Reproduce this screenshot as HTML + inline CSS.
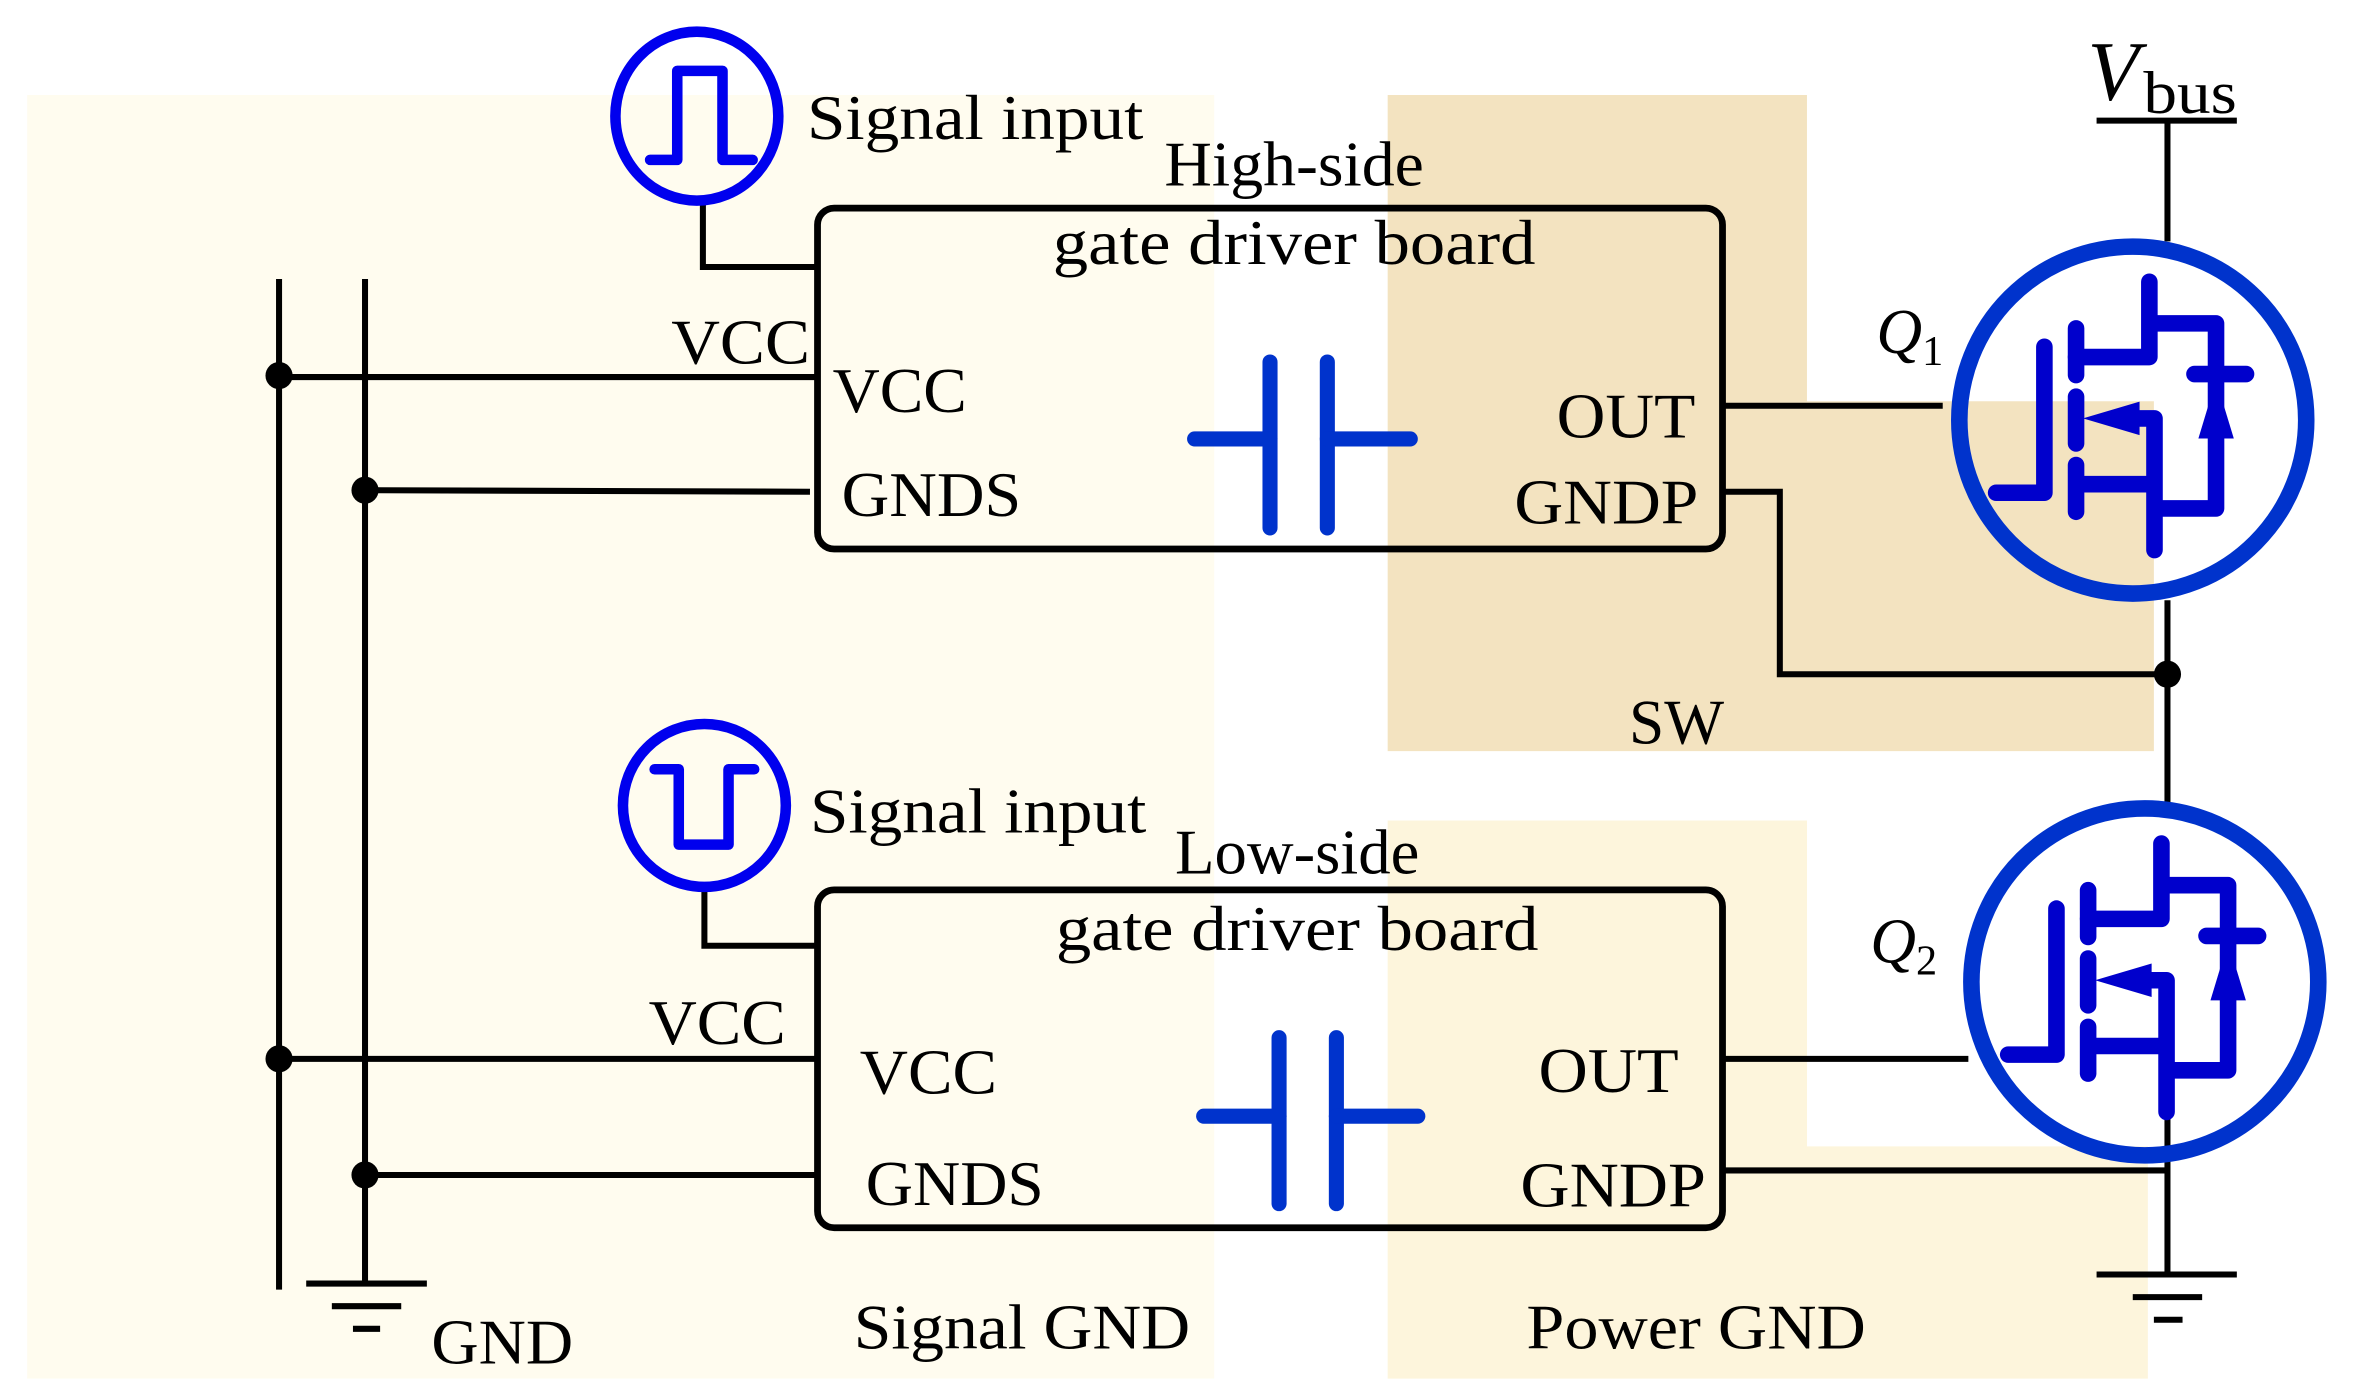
<!DOCTYPE html>
<html><head><meta charset="utf-8"><style>
html,body{margin:0;padding:0;background:#fff;}
svg{display:block;}
text{font-family:"Liberation Serif",serif;fill:#000;}
</style></head><body>
<svg width="2353" height="1397" viewBox="0 0 1560 926.2" xmlns="http://www.w3.org/2000/svg">
<defs>
<g id="fet">
  <path d="M-90.6,48.2 L-58.6,48.2 L-58.6,-48.6" fill="none" stroke="#0000cc" stroke-width="11" stroke-linecap="round" stroke-linejoin="round"/>
  <g stroke="#0000cc" stroke-width="11" stroke-linecap="round" fill="none">
    <line x1="-37.6" y1="-60.8" x2="-37.6" y2="-29.8"/>
    <line x1="-37.6" y1="-15.5" x2="-37.6" y2="15.5"/>
    <line x1="-37.6" y1="29.8" x2="-37.6" y2="60.8"/>
  </g>
  <g stroke="#0000cc" stroke-width="11" fill="none" stroke-linejoin="round">
    <path d="M-37.6,-41.8 L11,-41.8 L11,-91.7" stroke-linecap="round"/>
    <path d="M11,-64.1 L55.2,-64.1 L55.2,58.6 L14.4,58.6"/>
    <path d="M-37.6,42.5 L14.4,42.5"/>
    <path d="M14.4,86.2 L14.4,-1.1 L2,-1.1" stroke-linecap="round"/>
    <line x1="40.9" y1="-30.5" x2="75.1" y2="-30.5" stroke-linecap="round"/>
  </g>
  <polygon points="-33,-1.1 4.5,-12.2 4.5,10" fill="#0000cc"/>
  <polygon points="55.2,-26.5 43.5,12.2 67,12.2" fill="#0000cc"/>
</g>
</defs>
<rect x="18" y="63" width="787" height="851" fill="#fffcef"/>
<path d="M920,63 H1198 V266 H1428 V498 H920 Z" fill="#f3e3c0"/>
<path d="M920,544 H1198 V760 H1424 V914 H920 Z" fill="#fdf5dc"/>

<rect x="542" y="138" width="600" height="226" rx="11" fill="none" stroke="#000" stroke-width="4.5"/>
<rect x="542" y="590" width="600" height="224" rx="11" fill="none" stroke="#000" stroke-width="4.5"/>

<g stroke="#000" stroke-width="4" fill="none">
  <line x1="185" y1="185" x2="185" y2="855"/>
  <line x1="242" y1="185" x2="242" y2="851"/>
  <line x1="203" y1="851" x2="283" y2="851"/>
  <line x1="220" y1="866" x2="266" y2="866"/>
  <line x1="234" y1="881" x2="252" y2="881"/>
  <line x1="185" y1="250" x2="542" y2="250"/>
  <line x1="242" y1="325" x2="537" y2="326"/>
  <line x1="185" y1="702" x2="542" y2="702"/>
  <line x1="242" y1="779" x2="542" y2="779"/>
  <path d="M466,130 V177 H542"/>
  <path d="M467,588 V627 H542"/>
  <line x1="1142" y1="269" x2="1288" y2="269"/>
  <path d="M1142,326 H1180 V447 H1437"/>
  <line x1="1437" y1="80" x2="1437" y2="160"/>
  <line x1="1437" y1="398" x2="1437" y2="533"/>
  <line x1="1390" y1="80" x2="1483" y2="80"/>
  <line x1="1142" y1="702" x2="1305" y2="702"/>
  <line x1="1142" y1="776" x2="1437" y2="776"/>
  <line x1="1437" y1="740" x2="1437" y2="845"/>
  <line x1="1390" y1="845" x2="1483" y2="845"/>
  <line x1="1414" y1="860" x2="1460" y2="860"/>
  <line x1="1428" y1="875" x2="1447" y2="875"/>
</g>
<g fill="#000">
  <circle cx="185" cy="249" r="9"/><circle cx="242" cy="325" r="9"/>
  <circle cx="185" cy="702" r="9"/><circle cx="242" cy="779" r="9"/>
  <circle cx="1437" cy="447" r="9"/>
</g>

<ellipse cx="462" cy="77" rx="54" ry="56" fill="none" stroke="#0000ee" stroke-width="7"/>
<path d="M431,106 H449 V47 H479 V106 H499" fill="none" stroke="#0000ee" stroke-width="7" stroke-linecap="round" stroke-linejoin="round"/>
<ellipse cx="467" cy="534" rx="54" ry="54" fill="none" stroke="#0000ee" stroke-width="7"/>
<path d="M434,510 H450 V560 H483 V510 H500" fill="none" stroke="#0000ee" stroke-width="7" stroke-linecap="round" stroke-linejoin="round"/>

<g stroke="#0033cc" stroke-width="10" stroke-linecap="round">
  <line x1="842" y1="240" x2="842" y2="350"/><line x1="880" y1="240" x2="880" y2="350"/>
  <line x1="792" y1="291" x2="842" y2="291"/><line x1="880" y1="291" x2="935" y2="291"/>
  <line x1="848" y1="688" x2="848" y2="798"/><line x1="886" y1="688" x2="886" y2="798"/>
  <line x1="798" y1="740" x2="848" y2="740"/><line x1="886" y1="740" x2="940" y2="740"/>
</g>

<circle cx="1414" cy="278.5" r="115" fill="none" stroke="#0033cc" stroke-width="11"/>
<g transform="translate(1414,278.5)"><use href="#fet"/></g>
<circle cx="1422" cy="651" r="115" fill="none" stroke="#0033cc" stroke-width="11"/>
<g transform="translate(1422,651)"><use href="#fet"/></g>

<g font-size="42">
<text x="535" y="92" textLength="223" lengthAdjust="spacingAndGlyphs">Signal input</text>
<text x="772" y="123" textLength="172" lengthAdjust="spacingAndGlyphs">High-side</text>
<text x="698" y="175" textLength="320" lengthAdjust="spacingAndGlyphs">gate driver board</text>
<text x="445" y="241" textLength="92" lengthAdjust="spacingAndGlyphs">VCC</text>
<text x="552" y="273" textLength="89" lengthAdjust="spacingAndGlyphs">VCC</text>
<text x="558" y="342" textLength="119" lengthAdjust="spacingAndGlyphs">GNDS</text>
<text x="1032" y="290" textLength="92" lengthAdjust="spacingAndGlyphs">OUT</text>
<text x="1004" y="347" textLength="122" lengthAdjust="spacingAndGlyphs">GNDP</text>
<text x="1080" y="493" textLength="63" lengthAdjust="spacingAndGlyphs">SW</text>
<text x="537" y="552" textLength="223" lengthAdjust="spacingAndGlyphs">Signal input</text>
<text x="779" y="579" textLength="162" lengthAdjust="spacingAndGlyphs">Low-side</text>
<text x="700" y="630" textLength="320" lengthAdjust="spacingAndGlyphs">gate driver board</text>
<text x="430" y="692" textLength="91" lengthAdjust="spacingAndGlyphs">VCC</text>
<text x="570" y="725" textLength="91" lengthAdjust="spacingAndGlyphs">VCC</text>
<text x="574" y="799" textLength="118" lengthAdjust="spacingAndGlyphs">GNDS</text>
<text x="1020" y="724" textLength="93" lengthAdjust="spacingAndGlyphs">OUT</text>
<text x="1008" y="800" textLength="123" lengthAdjust="spacingAndGlyphs">GNDP</text>
<text x="286" y="904" textLength="94" lengthAdjust="spacingAndGlyphs">GND</text>
<text x="566" y="894" textLength="223" lengthAdjust="spacingAndGlyphs">Signal GND</text>
<text x="1012" y="894" textLength="225" lengthAdjust="spacingAndGlyphs">Power GND</text>
<text x="1244" y="234" font-style="italic">Q<tspan font-size="28" font-style="normal" dy="8">1</tspan></text>
<text x="1240" y="638" font-style="italic">Q<tspan font-size="28" font-style="normal" dy="8">2</tspan></text>
</g>
<text x="1384" y="66" font-size="56" font-style="italic">V</text>
<text x="1421" y="75" font-size="40" textLength="62" lengthAdjust="spacingAndGlyphs">bus</text>
</svg>
</body></html>
